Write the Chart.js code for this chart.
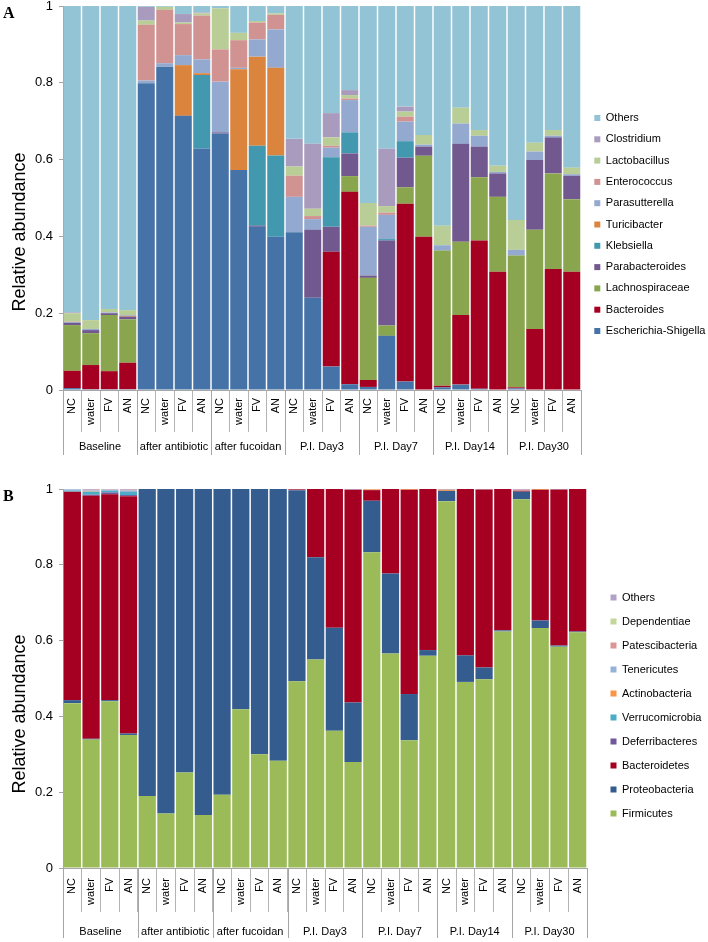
<!DOCTYPE html>
<html><head><meta charset="utf-8">
<script src="https://cdn.jsdelivr.net/npm/chart.js@4.4.0/dist/chart.umd.min.js"></script>
<style>
html,body{margin:0;padding:0;background:#fff;}
#wrap{position:relative;width:708px;height:942px;overflow:hidden;font-family:"Liberation Sans",Arial,sans-serif;}
canvas{position:absolute;left:0;}
.panel{position:absolute;left:3px;font:bold 16px "Liberation Serif","Times New Roman",serif;line-height:16px;color:#000;}
.ytitle{position:absolute;font-size:18px;white-space:nowrap;line-height:18px;color:#000;transform:translate(-50%,-50%) rotate(-90deg);}
</style></head>
<body><div id="wrap">
<canvas id="cA" width="708" height="470" style="top:0"></canvas>
<canvas id="cB" width="708" height="472" style="top:470px"></canvas>
<div class="panel" style="top:5px">A</div>
<div class="panel" style="top:488px">B</div>
<div class="ytitle" style="left:19px;top:232px">Relative abundance</div>
<div class="ytitle" style="left:19px;top:714px">Relative abundance</div>
</div>
<script>
// ---- categories ----
const treatments = ['NC', 'water', 'FV', 'AN'];
const groups = ['Baseline', 'after antibiotic', 'after fucoidan', 'P.I. Day3', 'P.I. Day7', 'P.I. Day14', 'P.I. Day30'];
const yTicks = [0, 0.2, 0.4, 0.6, 0.8, 1];

// ---- Panel A (genus), bottom to top ----
const escherichiaShigella = [0.005,0.002,0.002,0.002, 0.799,0.842,0.714,0.629, 0.668,0.573,0.425,0.399, 0.411,0.240,0.061,0.015, 0.008,0.141,0.022,0, 0.007,0.014,0.003,0, 0.004,0,0,0];
const bacteroides = [0.045,0.063,0.047,0.069, 0,0,0,0, 0,0,0,0, 0,0,0.299,0.501, 0.018,0,0.463,0.399, 0.004,0.181,0.386,0.308, 0.003,0.159,0.315,0.308];
const lachnospiraceae = [0.119,0.083,0.146,0.113, 0,0,0,0, 0,0,0,0, 0,0,0,0.041, 0.266,0.027,0.043,0.211, 0.352,0.191,0.165,0.195, 0.343,0.258,0.249,0.189];
const parabacteroides = [0.006,0.008,0.005,0.007, 0,0,0,0, 0.003,0,0.003,0, 0,0.177,0.065,0.059, 0.006,0.221,0.077,0.024, 0,0.255,0.080,0.061, 0,0.182,0.094,0.061];
const klebsiella = [0,0,0,0, 0,0,0,0.191, 0,0,0.208,0.212, 0,0,0.181,0.055, 0,0.004,0.043,0, 0,0,0,0, 0,0,0,0];
const turicibacter = [0,0,0,0.002, 0,0,0.132,0.005, 0,0.262,0.232,0.228, 0,0,0,0, 0,0,0,0, 0,0,0,0, 0,0,0,0];
const parasutterella = [0.002,0.003,0.002,0.002, 0.007,0.009,0.026,0.036, 0.132,0.004,0.045,0.100, 0.092,0.028,0.025,0.084, 0.127,0.063,0.051,0.005, 0.014,0.053,0.028,0.004, 0.015,0.022,0.004,0.004];
const enterococcus = [0.001,0,0,0, 0.145,0.139,0.081,0.114, 0.084,0.072,0.044,0.038, 0.055,0.008,0.005,0.004, 0.003,0.006,0.013,0, 0,0,0,0, 0,0,0,0];
const lactobacillus = [0.022,0.023,0.009,0.013, 0.011,0.008,0.004,0.006, 0.107,0.019,0.004,0.004, 0.024,0.019,0.022,0.009, 0.059,0.017,0.013,0.025, 0.051,0.041,0.015,0.016, 0.078,0.023,0.015,0.017];
const clostridium = [0.002,0,0,0, 0.036,0,0.022,0.002, 0,0,0,0, 0.072,0.169,0.063,0.013, 0,0.149,0.013,0, 0,0,0,0, 0,0,0,0];
const othersA = [0.798,0.818,0.789,0.792, 0.002,0.002,0.021,0.017, 0.006,0.070,0.039,0.019, 0.346,0.359,0.279,0.219, 0.513,0.372,0.262,0.336, 0.572,0.265,0.323,0.416, 0.557,0.356,0.323,0.421];

// ---- Panel B (phylum), bottom to top ----
const firmicutes = [0.435,0.339,0.440,0.351, 0.190,0.144,0.252,0.140, 0.193,0.419,0.300,0.283, 0.493,0.550,0.362,0.280, 0.833,0.566,0.337,0.560, 0.968,0.491,0.498,0.624, 0.973,0.633,0.584,0.622];
const proteobacteria = [0.008,0.002,0.003,0.004, 0.810,0.856,0.748,0.860, 0.807,0.581,0.700,0.717, 0.504,0.270,0.272,0.157, 0.136,0.211,0.122,0.015, 0.027,0.070,0.031,0.003, 0.020,0.020,0.003,0.002];
const bacteroidetes = [0.550,0.641,0.543,0.626, 0,0,0,0, 0,0,0,0, 0.002,0.180,0.366,0.561, 0.028,0.223,0.539,0.425, 0,0.439,0.470,0.373, 0.002,0.345,0.412,0.376];
const deferribacteres = [0,0.003,0.005,0.003, 0,0,0,0, 0,0,0,0, 0,0,0,0, 0,0,0,0, 0,0,0,0, 0,0,0,0];
const verrucomicrobia = [0.003,0.008,0.004,0.008, 0,0,0,0, 0,0,0,0, 0,0,0,0, 0,0,0,0, 0,0,0,0, 0,0,0,0];
const actinobacteria = [0,0.001,0,0, 0,0,0,0, 0,0,0,0, 0,0,0,0, 0.002,0,0.002,0, 0.003,0,0,0, 0,0.002,0,0];
const tenericutes = [0.003,0.002,0.003,0.004, 0,0,0,0, 0,0,0,0, 0,0,0,0, 0,0,0,0, 0,0,0,0, 0,0,0.001,0];
const patescibacteria = [0,0.002,0.001,0.002, 0,0,0,0, 0,0,0,0, 0,0,0,0, 0,0,0,0, 0,0,0,0, 0.003,0,0,0];
const dependentiae = [0,0,0,0, 0,0,0,0, 0,0,0,0, 0,0,0,0, 0,0,0,0, 0,0,0,0, 0,0,0,0];
const othersB = [0.001,0.002,0.001,0.002, 0,0,0,0, 0,0,0,0, 0.001,0,0,0.002, 0.001,0,0,0, 0.002,0,0.001,0, 0.002,0,0,0];

const FONT = '"Liberation Sans", Arial, sans-serif';
const sampleLabels = [];
groups.forEach(() => treatments.forEach(t => sampleLabels.push(t)));

const seriesA = [
  ['Escherichia-Shigella', escherichiaShigella, '#4572A7'],
  ['Bacteroides', bacteroides, '#A50021'],
  ['Lachnospiraceae', lachnospiraceae, '#89A54E'],
  ['Parabacteroides', parabacteroides, '#71588F'],
  ['Klebsiella', klebsiella, '#4198AF'],
  ['Turicibacter', turicibacter, '#DB843D'],
  ['Parasutterella', parasutterella, '#93A9CF'],
  ['Enterococcus', enterococcus, '#D19392'],
  ['Lactobacillus', lactobacillus, '#B9CD96'],
  ['Clostridium', clostridium, '#A99BBD'],
  ['Others', othersA, '#92C4D6']
];
const seriesB = [
  ['Firmicutes', firmicutes, '#9BBB59'],
  ['Proteobacteria', proteobacteria, '#345C8F'],
  ['Bacteroidetes', bacteroidetes, '#A50021'],
  ['Deferribacteres', deferribacteres, '#71589B'],
  ['Verrucomicrobia', verrucomicrobia, '#4BACC6'],
  ['Actinobacteria', actinobacteria, '#F79646'],
  ['Tenericutes', tenericutes, '#95B3D7'],
  ['Patescibacteria', patescibacteria, '#D99694'],
  ['Dependentiae', dependentiae, '#C3D69B'],
  ['Others', othersB, '#B3A2C7']
];

const groupPlugin = {
  id: 'groupRow',
  afterDraw(chart, args, o) {
    const x = chart.scales.x, ctx = chart.ctx;
    const n = chart.data.labels.length, per = treatments.length;
    const step = (x.right - x.left) / n;
    ctx.save();
    ctx.strokeStyle = '#a6a6a6'; ctx.lineWidth = 1;
    for (let g = 0; g <= groups.length; g++) {
      const px = Math.round(x.left + g * per * step) + 0.5;
      ctx.beginPath(); ctx.moveTo(px, x.top); ctx.lineTo(px, x.top + o.lineLen); ctx.stroke();
    }
    ctx.fillStyle = '#000'; ctx.font = '11px ' + FONT;
    ctx.textAlign = 'center'; ctx.textBaseline = 'middle';
    groups.forEach((g, i) => ctx.fillText(g, x.left + (i + 0.5) * per * step, x.top + o.labelOffset));
    ctx.restore();
  }
};

function build(id, series, cfg) {
  return new Chart(document.getElementById(id), {
    type: 'bar',
    data: {
      labels: sampleLabels,
      datasets: series.map(([name, vals, col]) => ({
        label: name, data: vals, backgroundColor: col, borderWidth: 0, yAxisID: 'y',
        barPercentage: 0.92, categoryPercentage: 1.0
      }))
    },
    options: {
      responsive: false, animation: false, devicePixelRatio: 1,
      layout: { padding: { top: cfg.padTop, bottom: cfg.padBottom, left: 0, right: 0 } },
      plugins: {
        tooltip: { enabled: false },
        legend: {
          position: 'right', reverse: true, maxWidth: cfg.legendWidth,
          labels: { boxWidth: 6, boxHeight: 6, padding: cfg.legendPad, color: '#000', font: { size: 11, family: FONT } }
        },
        groupRow: { lineLen: cfg.groupLine, labelOffset: cfg.groupLabel }
      },
      scales: {
        x: {
          stacked: true,
          grid: { offset: true, drawOnChartArea: false, drawTicks: true, tickLength: cfg.tickLen, color: '#b4b4b4' },
          border: { display: true, color: '#a6a6a6' },
          ticks: { autoSkip: false, minRotation: 90, maxRotation: 90, padding: cfg.labelTop - cfg.tickLen, color: '#000', font: { size: 11, family: FONT } },
          afterFit(s) { s.height = cfg.xHeight; }
        },
        y: {
          stacked: true, min: 0, max: 1,
          afterBuildTicks(s) { s.ticks = yTicks.map(v => ({ value: v })); },
          ticks: { padding: 6, color: '#000', font: { size: 13, family: FONT }, callback: v => String(v) },
          grid: { drawOnChartArea: false, drawTicks: true, tickLength: 4, color: '#a6a6a6' },
          border: { display: true, color: '#a6a6a6' },
          afterFit(s) { s.width = 63; s.paddingTop = 0; s.paddingBottom = 0; }
        },
        yR: {
          type: 'linear', position: 'right', display: true,
          ticks: { display: false }, grid: { display: false }, border: { display: false },
          afterFit(s) { s.width = cfg.spacer; s.paddingTop = 0; s.paddingBottom = 0; }
        }
      }
    },
    plugins: [groupPlugin]
  });
}

build('cA', seriesA, { padTop: 6, padBottom: 27, xHeight: 53, tickLen: 42, labelTop: 8, groupLine: 65, groupLabel: 57, legendWidth: 124, legendPad: 10.3, spacer: 3 });
build('cB', seriesB, { padTop: 19, padBottom: 20, xHeight: 54, tickLen: 44, labelTop: 10, groupLine: 70, groupLabel: 64, legendWidth: 110.5, legendPad: 13, spacer: 10.5 });
</script>
</body></html>
